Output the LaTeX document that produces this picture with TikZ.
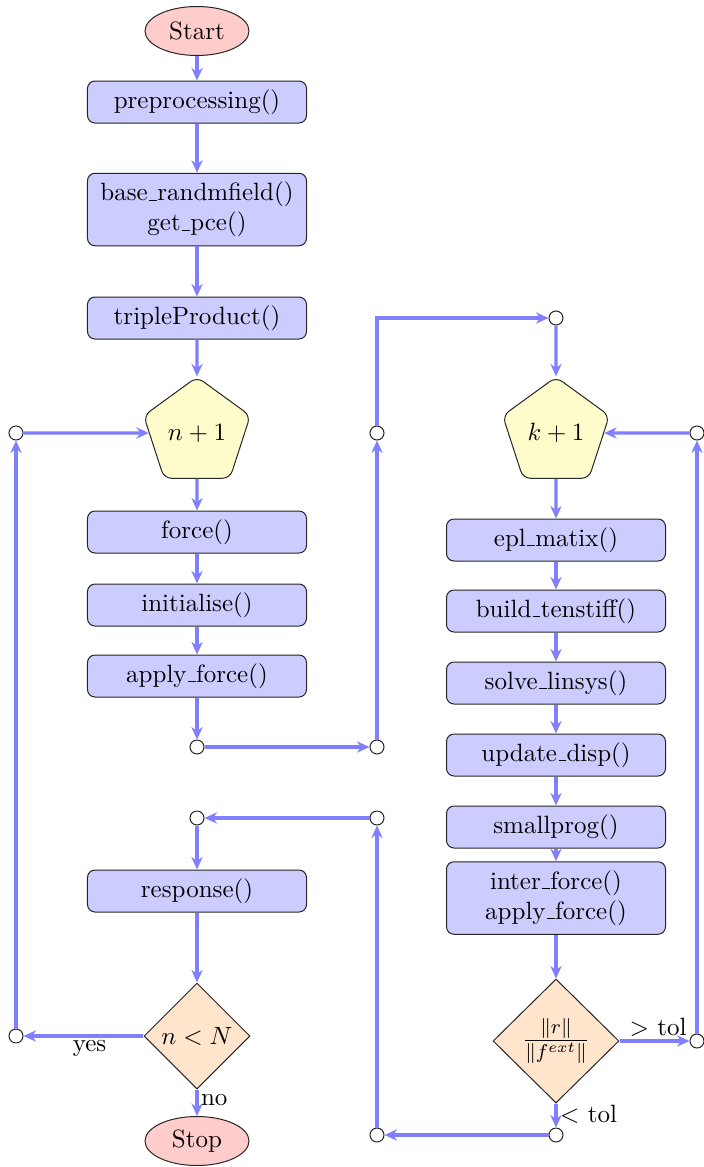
\documentclass[tikz,border=0pt]{standalone}
\usetikzlibrary{shapes.geometric,arrows.meta}
\newcommand\uscore{\leavevmode\kern.06em\vbox{\hrule width.3em height 0.4pt}\kern.02em}
\begin{document}
\begin{tikzpicture}[x=0.4pt,y=-0.4pt,
 flow/.style={draw=blue!50, line width=1.25pt, -{Stealth[length=5pt,width=4.5pt]}},
 proc/.style={draw=black!85, fill=blue!20, rounded corners=3pt, minimum width=87.6pt, minimum height=16.8pt, align=center, inner sep=1pt, line width=0.4pt},
 proctall/.style={proc, minimum height=29pt},
 term/.style={ellipse, draw=black!85, fill=red!20, minimum width=41.6pt, minimum height=19.6pt, inner sep=0pt, line width=0.4pt},
 loopnode/.style={regular polygon, regular polygon sides=5, draw=black!85, fill=yellow!20, minimum size=44.8pt, inner sep=0pt, rounded corners=3pt, line width=0.4pt},
 dec/.style={diamond, draw=black!85, fill=orange!20, inner sep=0pt, line width=0.4pt},
 dot/.style={circle, draw=black!85, fill=white, minimum size=5.6pt, inner sep=0pt, line width=0.4pt},
 lbl/.style={inner sep=1pt}]
\useasboundingbox (0,0) rectangle (704,1167);

% left column
\node[term] (start) at (197,31) {Start};
\node[proc] (pre) at (197,102) {preprocessing()};
\node[proctall] (base) at (197,209.5) {base\uscore randmfield()\\get\uscore pce()};
\node[proc] (trip) at (197,318) {tripleProduct()};
\node[loopnode] (pn) at (197,433) {$n+1$};
\node[proc] (force) at (197,532) {force()};
\node[proc] (init) at (197,605) {initialise()};
\node[proc] (af) at (197,676) {apply\uscore force()};
\node[dot] (c1) at (197,747) {};
\node[dot] (c2) at (377,747) {};
\node[dot] (c3) at (377,433) {};
\node[dot] (c4) at (556,318) {};
\node[dot] (cL1) at (16,433) {};
\node[dot] (cL2) at (16,1036) {};
\node[dot] (cM1) at (377,818) {};
\node[dot] (cM2) at (197,818) {};
\node[proc] (resp) at (197,891) {response()};
\node[dec, minimum width=42.4pt, minimum height=42.4pt] (dn) at (197,1036) {$n<N$};
\node[term] (stop) at (197,1141) {Stop};

% right column
\node[loopnode] (pk) at (556,433) {$k+1$};
\node[proc] (epl) at (556,540) {epl\uscore matix()};
\node[proc] (bts) at (556,611) {build\uscore tenstiff()};
\node[proc] (sls) at (556,683) {solve\uscore linsys()};
\node[proc] (upd) at (556,755) {update\uscore disp()};
\node[proc] (smp) at (556,827) {smallprog()};
\node[proctall] (inf) at (556,898) {inter\uscore force()\\apply\uscore force()};
\node[dec, minimum width=50.4pt, minimum height=49.6pt] (dt) at (556,1041) {\large$\frac{\|r\|}{\|f^{ext}\|}$};
\node[dot] (cR1) at (697,433) {};
\node[dot] (cR2) at (697,1041) {};
\node[dot] (cB1) at (556,1135) {};
\node[dot] (cB2) at (377,1135) {};

% connectors
\draw[flow] (start) -- (pre);
\draw[flow] (pre) -- (base);
\draw[flow] (base) -- (trip);
\draw[flow] (trip) -- (pn);
\draw[flow] (pn) -- (force);
\draw[flow] (force) -- (init);
\draw[flow] (init) -- (af);
\draw[flow] (af) -- (c1);
\draw[flow] (c1) -- (c2);
\draw[flow] (c2) -- (c3);
\draw[flow] (c3) |- (c4);
\draw[flow] (c4) -- (pk);
\draw[flow] (pk) -- (epl);
\draw[flow] (epl) -- (bts);
\draw[flow] (bts) -- (sls);
\draw[flow] (sls) -- (upd);
\draw[flow] (upd) -- (smp);
\draw[flow] (smp) -- (inf);
\draw[flow] (inf) -- (dt);
\draw[flow] (dt) -- node[lbl, above, pos=0.55] {$>$ tol} (cR2);
\draw[flow] (cR2) -- (cR1);
\draw[flow] (cR1) -- (pk);
\draw[flow] (dt) -- node[lbl, right, pos=0.45] {$<$ tol} (cB1);
\draw[flow] (cB1) -- (cB2);
\draw[flow] (cB2) -- (cM1);
\draw[flow] (cM1) -- (cM2);
\draw[flow] (cM2) -- (resp);
\draw[flow] (resp) -- (dn);
\draw[flow] (dn) -- node[lbl, below, pos=0.45] {yes} (cL2);
\draw[flow] (cL2) -- (cL1);
\draw[flow] (cL1) -- (pn);
\draw[flow] (dn) -- node[lbl, right, pos=0.4] {no} (stop);
\end{tikzpicture}
\end{document}
